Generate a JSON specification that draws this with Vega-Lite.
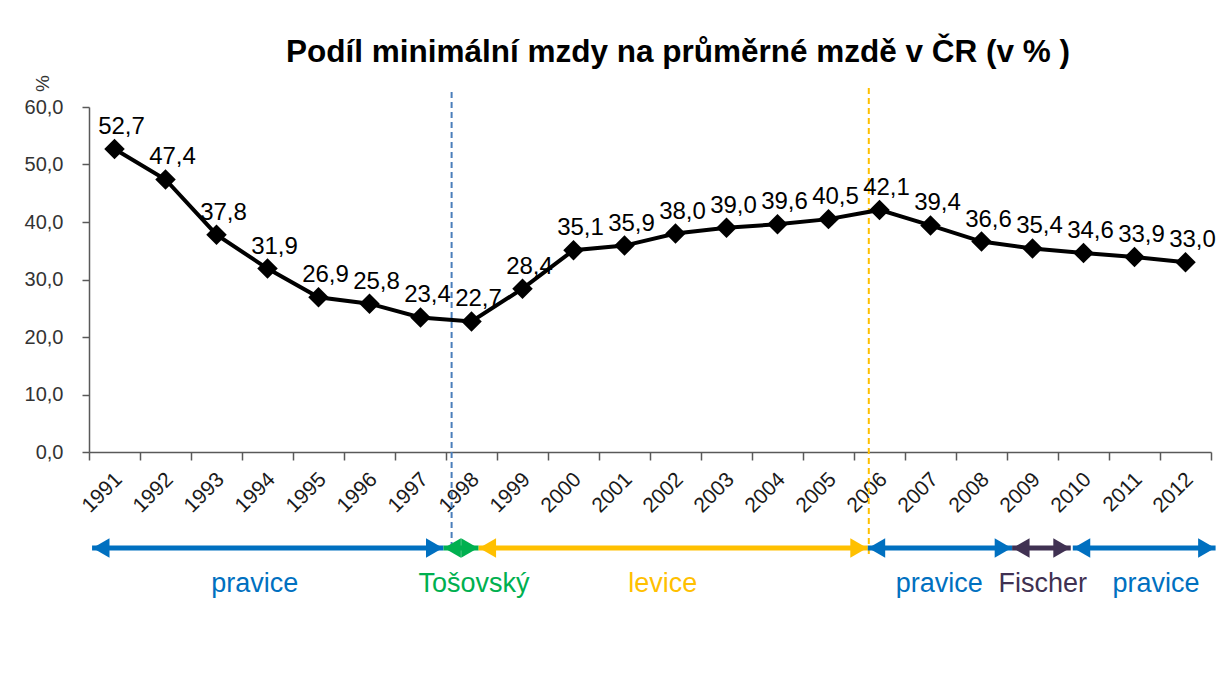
{
  "$schema": "https://vega.github.io/schema/vega-lite/v6.json",
  "autosize": "none",
  "width": 1122,
  "height": 345,
  "padding": {"left": 89, "top": 107, "right": 8, "bottom": 228},
  "background": "white",
  "config": {
    "view": {"stroke": null},
    "font": "Liberation Sans",
    "locale": {"number": {"decimal": ",", "thousands": " ", "grouping": [3], "currency": ["", " Kč"]}}
  },
  "title": {
    "text": "Podíl minimální mzdy na průměrné mzdě v ČR (v % )",
    "font": "Liberation Sans",
    "fontSize": 31.5,
    "fontWeight": "bold",
    "color": "#000000",
    "anchor": "middle",
    "dx": 28,
    "offset": 6
  },
  "datasets": {
    "series": [
      {"year": 1991, "v": 52.7}, {"year": 1992, "v": 47.4}, {"year": 1993, "v": 37.8},
      {"year": 1994, "v": 31.9}, {"year": 1995, "v": 26.9}, {"year": 1996, "v": 25.8},
      {"year": 1997, "v": 23.4}, {"year": 1998, "v": 22.7}, {"year": 1999, "v": 28.4},
      {"year": 2000, "v": 35.1}, {"year": 2001, "v": 35.9}, {"year": 2002, "v": 38.0},
      {"year": 2003, "v": 39.0}, {"year": 2004, "v": 39.6}, {"year": 2005, "v": 40.5},
      {"year": 2006, "v": 42.1}, {"year": 2007, "v": 39.4}, {"year": 2008, "v": 36.6},
      {"year": 2009, "v": 35.4}, {"year": 2010, "v": 34.6}, {"year": 2011, "v": 33.9},
      {"year": 2012, "v": 33.0}
    ],
    "gov": [
      {"gov": "pravice", "start": 1990.56, "end": 1997.45, "mid": 1993.75},
      {"gov": "Tošovský", "start": 1997.45, "end": 1998.14, "mid": 1998.05},
      {"gov": "levice", "start": 1998.14, "end": 2005.77, "mid": 2001.75},
      {"gov": "pravice", "start": 2005.77, "end": 2008.6, "mid": 2007.17},
      {"gov": "Fischer", "start": 2008.6, "end": 2009.75, "mid": 2009.2},
      {"gov": "pravice", "start": 2009.79, "end": 2012.59, "mid": 2011.42}
    ],
    "ev1": [{"year": 1997.61}],
    "ev2": [{"year": 2005.79}]
  },
  "layer": [
    {
      "data": {"name": "ev1"},
      "mark": {"type": "rule", "color": "#4a7ebb", "strokeWidth": 2, "strokeDash": [6, 4], "clip": false},
      "encoding": {
        "x": {
          "field": "year", "type": "quantitative",
          "scale": {"domain": [1990.5, 2012.5], "nice": false, "zero": false},
          "axis": {
            "orient": "bottom",
            "values": [1990.5, 1991.5, 1992.5, 1993.5, 1994.5, 1995.5, 1996.5, 1997.5, 1998.5, 1999.5, 2000.5, 2001.5, 2002.5, 2003.5, 2004.5, 2005.5, 2006.5, 2007.5, 2008.5, 2009.5, 2010.5, 2011.5, 2012.5],
            "labels": false, "ticks": true, "tickSize": 8, "tickColor": "#595959", "tickWidth": 1.5,
            "domain": true, "domainColor": "#595959", "domainWidth": 1.5, "grid": false, "title": null
          }
        },
        "y": {"datum": 62.6, "type": "quantitative", "axis": null},
        "y2": {"datum": -16.5}
      }
    },
    {
      "data": {"name": "ev2"},
      "mark": {"type": "rule", "color": "#ffc000", "strokeWidth": 2, "strokeDash": [6, 4], "clip": false},
      "encoding": {
        "x": {"field": "year", "type": "quantitative", "axis": null},
        "y": {"datum": 63.3, "type": "quantitative", "axis": null},
        "y2": {"datum": -18}
      }
    },
    {
      "data": {"name": "series"},
      "mark": {"type": "line", "color": "#000000", "strokeWidth": 4},
      "encoding": {
        "x": {
          "field": "year", "type": "quantitative",
          "axis": {
            "orient": "bottom",
            "values": [1991, 1992, 1993, 1994, 1995, 1996, 1997, 1998, 1999, 2000, 2001, 2002, 2003, 2004, 2005, 2006, 2007, 2008, 2009, 2010, 2011, 2012],
            "format": "d", "labelAngle": -45, "labelAlign": "right", "labelBaseline": "middle",
            "labelFontSize": 21, "labelColor": "#1a1a1a", "labelPadding": 24, "labelOffset": 4,
            "labelOverlap": false, "labelFlush": false, "labelBound": false,
            "ticks": false, "domain": false,
            "grid": false, "title": null
          }
        },
        "y": {
          "field": "v", "type": "quantitative",
          "scale": {"domain": [0, 60], "nice": false},
          "axis": {
            "orient": "left",
            "values": [0, 10, 20, 30, 40, 50, 60], "format": ".1f",
            "labelFontSize": 20, "labelColor": "#333333", "labelPadding": 19,
            "tickSize": 7, "tickColor": "#595959", "tickWidth": 1.5,
            "domainColor": "#595959", "domainWidth": 1.5, "grid": false,
            "title": "%", "titleFontSize": 19, "titleFontWeight": "normal", "titleColor": "#333333",
            "titleAngle": -90, "titleX": -47, "titleY": -24, "titleAlign": "center", "titleBaseline": "middle"
          }
        }
      }
    },
    {
      "data": {"name": "series"},
      "mark": {"type": "point", "shape": "diamond", "filled": true, "color": "#000000", "size": 420, "opacity": 1},
      "encoding": {
        "x": {"field": "year", "type": "quantitative", "axis": null},
        "y": {"field": "v", "type": "quantitative", "axis": null}
      }
    },
    {
      "data": {"name": "series"},
      "mark": {"type": "text", "fontSize": 24, "color": "#000000", "align": "center", "baseline": "alphabetic", "dx": 7, "dy": -15},
      "encoding": {
        "x": {"field": "year", "type": "quantitative", "axis": null},
        "y": {"field": "v", "type": "quantitative", "axis": null},
        "text": {"field": "v", "type": "quantitative", "format": ".1f"}
      }
    },
    {
      "data": {"name": "gov"},
      "mark": {"type": "rule", "strokeWidth": 5, "clip": false},
      "encoding": {
        "x": {"field": "start", "type": "quantitative", "axis": null},
        "x2": {"field": "end"},
        "y": {"datum": -16.7, "type": "quantitative", "axis": null},
        "color": {
          "field": "gov", "type": "nominal", "legend": null,
          "scale": {"domain": ["pravice", "Tošovský", "levice", "Fischer"], "range": ["#0070c0", "#00b050", "#ffc000", "#403152"]}
        }
      }
    },
    {
      "data": {"name": "gov"},
      "mark": {"type": "point", "shape": "triangle-left", "filled": true, "opacity": 1, "size": 380, "xOffset": 9, "clip": false},
      "encoding": {
        "x": {"field": "start", "type": "quantitative", "axis": null},
        "y": {"datum": -16.7, "type": "quantitative", "axis": null},
        "color": {"field": "gov", "type": "nominal", "legend": null}
      }
    },
    {
      "data": {"name": "gov"},
      "mark": {"type": "point", "shape": "triangle-right", "filled": true, "opacity": 1, "size": 380, "xOffset": -9, "clip": false},
      "encoding": {
        "x": {"field": "end", "type": "quantitative", "axis": null},
        "y": {"datum": -16.7, "type": "quantitative", "axis": null},
        "color": {"field": "gov", "type": "nominal", "legend": null}
      }
    },
    {
      "data": {"name": "gov"},
      "mark": {"type": "text", "fontSize": 27, "align": "center", "baseline": "middle", "clip": false},
      "encoding": {
        "x": {"field": "mid", "type": "quantitative", "axis": null},
        "y": {"datum": -22.9, "type": "quantitative", "axis": null},
        "text": {"field": "gov"},
        "color": {"field": "gov", "type": "nominal", "legend": null}
      }
    }
  ],
  "resolve": {"axis": {"x": "independent", "y": "independent"}}
}
